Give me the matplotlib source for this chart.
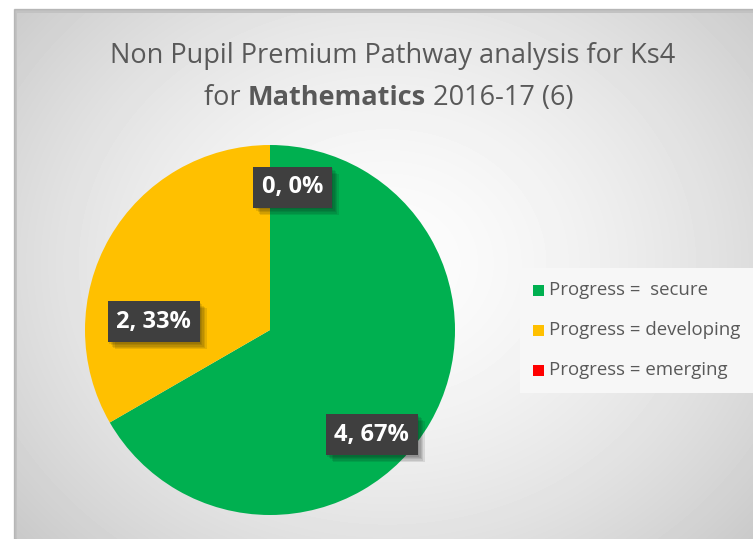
import numpy as np
import matplotlib
matplotlib.use("Agg")
import matplotlib.pyplot as plt
from matplotlib.patches import Rectangle
import matplotlib.patheffects as pe

# data
categories = ["Progress =  secure", "Progress = developing", "Progress = emerging"]
counts = [4, 2, 0]
colors = ["#00b050", "#ffc000", "#ff0000"]
# label placement (angle in degrees, radius fraction) for each slice
label_pos = [(-45.8, 0.79), (176.0, 0.63), (81.0, 0.78)]

W, H = 753, 539
fig = plt.figure(figsize=(W / 100, H / 100), dpi=100)
fig.patch.set_facecolor("white")


def px(x0, y0, w, h):
    return [x0 / W, 1 - (y0 + h) / H, w / W, h / H]


def soft_shadow(alpha=0.12):
    return [pe.SimplePatchShadow(offset=(o, -o), alpha=alpha) for o in (1, 2, 3, 4, 5)] + [pe.Normal()]


# chart area shadow + gradient background
fig.patches.append(Rectangle((14 / W, 0), 1, 1 - 9 / H, transform=fig.transFigure,
                             color="#9a9a9a", alpha=0.6, zorder=0))
bg = fig.add_axes(px(17, 13, W - 17, H - 13), zorder=1)
yy, xx = np.mgrid[0:H - 13, 0:W - 17]
r = np.sqrt(((xx - 370) / 520.0) ** 2 + ((yy - 250) / 440.0) ** 2)
shade = 0.99 - 0.22 * np.clip(r, 0, 1.2) ** 1.6
bg.imshow(shade, cmap="gray", vmin=0, vmax=1, aspect="auto", interpolation="bilinear")
bg.axis("off")

# title
tcol = "#595959"
tfont = "Open Sans"
tsize = 19.5
fig.text(393 / W, 1 - 56 / H, "Non Pupil Premium Pathway analysis for Ks4", ha="center", va="center",
         fontsize=tsize, color=tcol, family=tfont, zorder=5)
parts = [("for ", "normal"), ("Mathematics", "bold"), (" 2016-17 (6)", "normal")]
fig.canvas.draw()
renderer = fig.canvas.get_renderer()
texts = []
for s, w in parts:
    t = fig.text(0, 1 - 98 / H, s, ha="left", va="center", fontsize=tsize, color=tcol,
                 family=tfont, fontweight=w, zorder=5)
    texts.append(t)
widths = [t.get_window_extent(renderer).width for t in texts]
x = 389 - sum(widths) / 2
for t, wd in zip(texts, widths):
    t.set_x(x / W)
    x += wd

# pie
R = 185
cx, cy = 270, 330
ax = fig.add_axes(px(cx - R, cy - R, 2 * R, 2 * R), zorder=3)
ax.pie(counts, colors=colors, startangle=90, counterclock=False, radius=1)
ax.set_xlim(-1, 1)
ax.set_ylim(-1, 1)
ax.set_aspect("equal")
ax.axis("off")

total = sum(counts)
for c, (ang, rf) in zip(counts, label_pos):
    a = np.deg2rad(ang)
    t = ax.text(rf * np.cos(a), rf * np.sin(a), f"{c}, {round(100 * c / total)}%",
                ha="center", va="center", fontsize=17, fontweight="bold", color="white",
                family=tfont, zorder=6,
                bbox=dict(boxstyle="square,pad=0.36", fc="#3f3f3f", ec="none"))
    t.get_bbox_patch().set_path_effects(soft_shadow(0.1))

# legend
lax = fig.add_axes(px(520, 268, 240, 125), zorder=4)
lax.set_xlim(0, 240)
lax.set_ylim(125, 0)
lax.add_patch(Rectangle((0, 0), 240, 125, fc="#f7f7f7", ec="none",
                        path_effects=soft_shadow(0.06)))
for i, (lab, col) in enumerate(zip(categories, colors)):
    y = 22 + 40 * i
    lax.add_patch(Rectangle((13, y - 5.5), 11, 11, fc=col, ec="none"))
    lax.text(29, y, lab, va="center", ha="left", fontsize=13.4, color=tcol, family=tfont)
lax.axis("off")

fig.savefig("out.png", dpi=100)
